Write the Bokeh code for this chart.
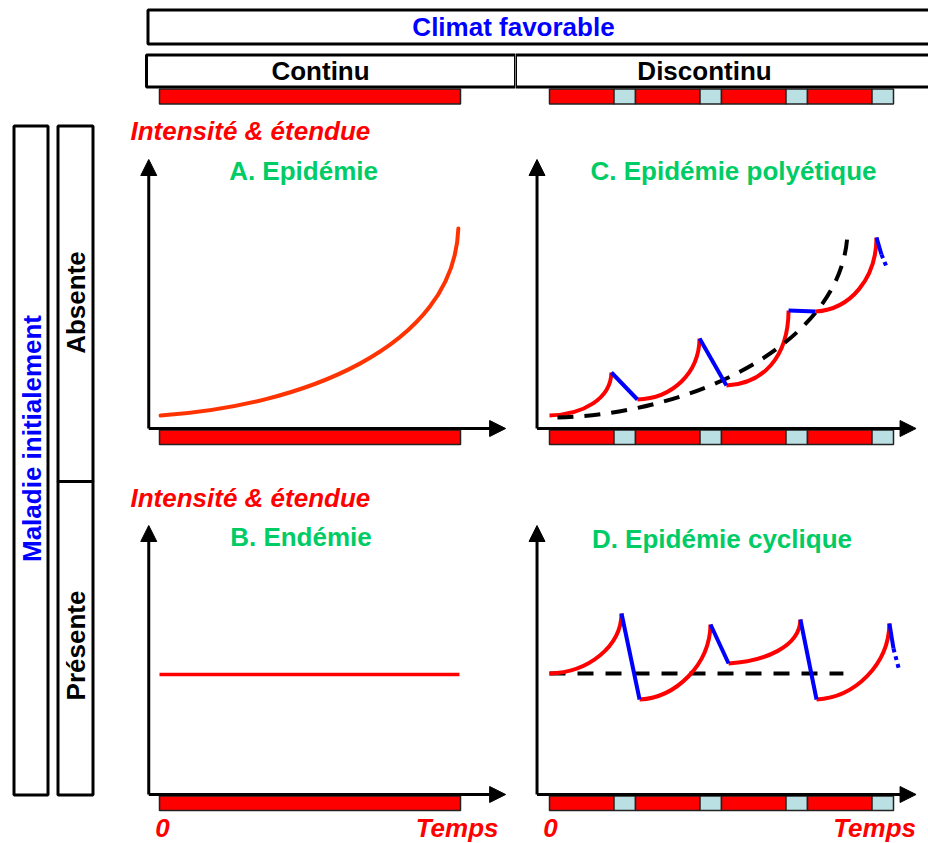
from itertools import accumulate
import math
from bokeh.plotting import figure
from bokeh.layouts import row, column
from bokeh.models import Range1d, Arrow, NormalHead
from bokeh.embed import file_html
from bokeh.resources import INLINE
from bokeh.core.properties import value

FONT = "Liberation Sans"
RED = "#ff0000"
ORANGE = "#ff3300"
BLUE = "#0000ff"
GREEN = "#00cc66"
LIGHT = "#bbe0e3"

# ---------------- data ----------------
# climate phases (time units)
continuous_kinds = ["favorable"]
continuous_durations = [14]
discontinuous_kinds = ["favorable", "defavorable"] * 4
discontinuous_durations = [3, 1, 3, 1, 3, 1, 3, 1]

# A. Epidemie : one exponential rise (bezier: start, control 1, control 2, end)
epiA_x0, epiA_y0 = [0.05], [1.3]
epiA_cx0, epiA_cy0 = [6.5], [2.2]
epiA_cx1, epiA_cy1 = [13.7], [8.0]
epiA_x1, epiA_y1 = [13.9], [20.0]

# B. Endemie : constant level
endB_t = [0.0, 13.95]
endB_level = [12.0, 12.0]

# C. Epidemie polyetique : rises in favourable periods (red), drops (blue)
polC_x0 = [0.0, 4.09, 8.23, 12.37]
polC_y0 = [1.3, 2.9, 4.3, 11.7]
polC_cx0 = [1.6, 5.7, 9.9, 14.0]
polC_cy0 = [1.4, 3.0, 4.5, 11.9]
polC_cx1 = [2.85, 6.95, 11.1, 15.2]
polC_cy1 = [3.0, 5.5, 7.0, 15.0]
polC_x1 = [2.88, 6.98, 11.12, 15.21]
polC_y1 = [5.6, 9.0, 11.8, 19.1]
polC_drop_t = [[2.88, 4.09], [6.98, 8.23], [11.12, 12.37], [15.21, 15.44]]
polC_drop_v = [[5.6, 2.9], [9.0, 4.3], [11.8, 11.7], [19.1, 17.4]]
polC_cont_t = [15.44, 15.67]
polC_cont_v = [17.4, 16.2]
# trend (dashed)
trendC_x0, trendC_y0 = [0.37], [1.1]
trendC_cx0, trendC_cy0 = [7.0], [1.5]
trendC_cx1, trendC_cy1 = [13.8], [9.0]
trendC_x1, trendC_y1 = [13.86], [19.8]

# D. Epidemie cyclique
cycD_x0 = [0.0, 4.19, 8.33, 12.42]
cycD_y0 = [12.1, 9.5, 13.1, 9.5]
cycD_cx0 = [1.8, 5.9, 10.0, 14.2]
cycD_cy0 = [12.2, 9.7, 13.3, 9.7]
cycD_cx1 = [3.33, 7.45, 11.65, 15.78]
cycD_cy1 = [14.8, 13.0, 14.8, 13.0]
cycD_x1 = [3.35, 7.49, 11.67, 15.81]
cycD_y1 = [18.1, 17.0, 17.5, 17.1]
cycD_drop_t = [[3.35, 4.19], [7.49, 8.33], [11.67, 12.42], [15.81, 16.0]]
cycD_drop_v = [[18.1, 9.5], [17.0, 13.1], [17.5, 9.5], [17.1, 14.6]]
cycD_cont_t = [16.0, 16.28]
cycD_cont_v = [14.6, 12.3]
trendD_t = [0.0, 13.67]
trendD_level = [12.1, 12.1]

# texts
title_top = "Climat favorable"
col_labels = ["Continu", "Discontinu"]
row_side = "Maladie initialement"
row_labels = ["Absente", "Présente"]
y_label = "Intensité & étendue"
panel_titles = ["A. Epidémie", "C. Epidémie polyétique", "B. Endémie", "D. Epidémie cyclique"]
x_origin = "0"
x_label = "Temps"


def make_fig(w, h, xr, yr):
    p = figure(width=w, height=h, x_range=Range1d(*xr), y_range=Range1d(*yr),
               output_backend="svg", toolbar_location=None,
               x_axis_type=None, y_axis_type=None, min_border=0)
    p.outline_line_color = None
    p.background_fill_color = "white"
    p.border_fill_color = "white"
    for g in p.grid:
        g.visible = False
    return p


def txt(p, x, y, s, color, size="26px", style="bold", align="center", angle=0.0):
    p.text(x=[x], y=[y], text=[s], text_font=value(FONT), text_font_size=size,
           text_font_style=style, text_color=color, text_align=align,
           text_baseline="middle", angle=angle)


def climate_bar(p, durations, kinds, top, bottom):
    ends = list(accumulate(durations))
    starts = [0] + ends[:-1]
    colors = [RED if k == "favorable" else LIGHT for k in kinds]
    p.quad(left=starts, right=ends, top=top, bottom=bottom, fill_color=colors,
           line_color="#222222", line_width=1.5)


def axes(p, x_axis_at, x_tip, y_tip):
    p.add_layout(Arrow(end=NormalHead(size=16, fill_color="black", line_color="black"),
                       x_start=x_axis_at, y_start=0, x_end=x_axis_at, y_end=y_tip,
                       line_width=3, line_color="black"))
    p.add_layout(Arrow(end=NormalHead(size=16, fill_color="black", line_color="black"),
                       x_start=x_axis_at, y_start=0, x_end=x_tip, y_end=0,
                       line_width=3, line_color="black"))


# ---------------- header ----------------
top_fig = make_fig(928, 48, (0, 928), (48, 0))
top_fig.quad(left=[147.5], right=[1000], top=[9.5], bottom=[43.5], fill_color="white",
             line_color="black", line_width=3)
txt(top_fig, 513, 26, title_top, BLUE)

XL = (-7.395, 16.558)
XR = (-1.5814, 17.628)
hdr_l = make_fig(515, 64, XL, (112, 48))
hdr_l.quad(left=[-0.605], right=[16.558], top=[54.5], bottom=[86.5], fill_color="white",
           line_color="black", line_width=3)
txt(hdr_l, 7.49, 70, col_labels[0], "black")
climate_bar(hdr_l, continuous_durations, continuous_kinds, 88.5, 103.5)

hdr_r = make_fig(413, 64, XR, (112, 48))
hdr_r.quad(left=[-1.5814], right=[25], top=[54.5], bottom=[86.5], fill_color="white",
           line_color="black", line_width=3)
txt(hdr_r, 7.21, 70, col_labels[1], "black")
climate_bar(hdr_r, discontinuous_durations, discontinuous_kinds, 88.5, 103.5)

# ---------------- side ----------------
side = make_fig(118, 731, (0, 118), (843, 112))
side.quad(left=[13.5, 57.5, 57.5], right=[47.5, 92.5, 92.5], top=[125.5, 125.5, 481],
          bottom=[794.5, 481, 794.5], fill_color="white", line_color="black", line_width=3)
txt(side, 31, 438, row_side, BLUE, angle=math.pi / 2)
txt(side, 75, 302, row_labels[0], "black", angle=math.pi / 2)
txt(side, 75, 645, row_labels[1], "black", angle=math.pi / 2)

# ---------------- panels ----------------
YT = (-4.8, 31.6)
YB = (-4.9, 31.8)
XA = (-1.907, 16.558)
pA = make_fig(397, 364, XA, YT)
pC = make_fig(413, 364, XR, YT)
pB = make_fig(397, 367, XA, YB)
pD = make_fig(413, 367, XR, YB)

for p in (pA, pB):
    climate_bar(p, continuous_durations, continuous_kinds, -0.15, -1.6)
    axes(p, -0.5, 16.1, 26.9)
for p in (pC, pD):
    climate_bar(p, discontinuous_durations, discontinuous_kinds, -0.15, -1.6)
    axes(p, -0.58, 17.05, 26.9)

# A
pA.bezier(x0=epiA_x0, y0=epiA_y0, cx0=epiA_cx0, cy0=epiA_cy0, cx1=epiA_cx1, cy1=epiA_cy1,
          x1=epiA_x1, y1=epiA_y1, line_color=ORANGE, line_width=4, line_cap="round")
# B
pB.line(endB_t, endB_level, line_color=RED, line_width=3.5)
# C
pC.bezier(x0=polC_x0, y0=polC_y0, cx0=polC_cx0, cy0=polC_cy0, cx1=polC_cx1, cy1=polC_cy1,
          x1=polC_x1, y1=polC_y1, line_color=RED, line_width=4)
pC.bezier(x0=trendC_x0, y0=trendC_y0, cx0=trendC_cx0, cy0=trendC_cy0, cx1=trendC_cx1,
          cy1=trendC_cy1, x1=trendC_x1, y1=trendC_y1, line_color="black", line_width=4,
          line_dash="16 11")
pC.multi_line(polC_drop_t, polC_drop_v, line_color=BLUE, line_width=4)
pC.line(polC_cont_t, polC_cont_v, line_color=BLUE, line_width=4, line_dash="4 4")
# D
pD.line(trendD_t, trendD_level, line_color="black", line_width=4, line_dash="16 12")
pD.bezier(x0=cycD_x0, y0=cycD_y0, cx0=cycD_cx0, cy0=cycD_cy0, cx1=cycD_cx1, cy1=cycD_cy1,
          x1=cycD_x1, y1=cycD_y1, line_color=RED, line_width=4)
pD.multi_line(cycD_drop_t, cycD_drop_v, line_color=BLUE, line_width=4)
pD.line(cycD_cont_t, cycD_cont_v, line_color=BLUE, line_width=4, line_dash="4 4")

# texts in panels
txt(pA, -1.35, 29.8, y_label, RED, style="bold italic", align="left")
txt(pB, -1.35, 29.7, y_label, RED, style="bold italic", align="left")
txt(pA, 6.70, 25.8, panel_titles[0], GREEN)
txt(pC, 8.56, 25.8, panel_titles[1], GREEN)
txt(pB, 6.58, 25.8, panel_titles[2], GREEN)
txt(pD, 8.02, 25.6, panel_titles[3], GREEN)
txt(pB, 0.14, -3.3, x_origin, RED, style="bold italic")
txt(pB, 13.84, -3.3, x_label, RED, style="bold italic")
txt(pD, 0.05, -3.3, x_origin, RED, style="bold italic")
txt(pD, 15.12, -3.3, x_label, RED, style="bold italic")

layout = column(top_fig, row(hdr_l, hdr_r),
                row(side, column(row(pA, pC), row(pB, pD))))

open("out.html", "w").write(file_html(layout, INLINE))
